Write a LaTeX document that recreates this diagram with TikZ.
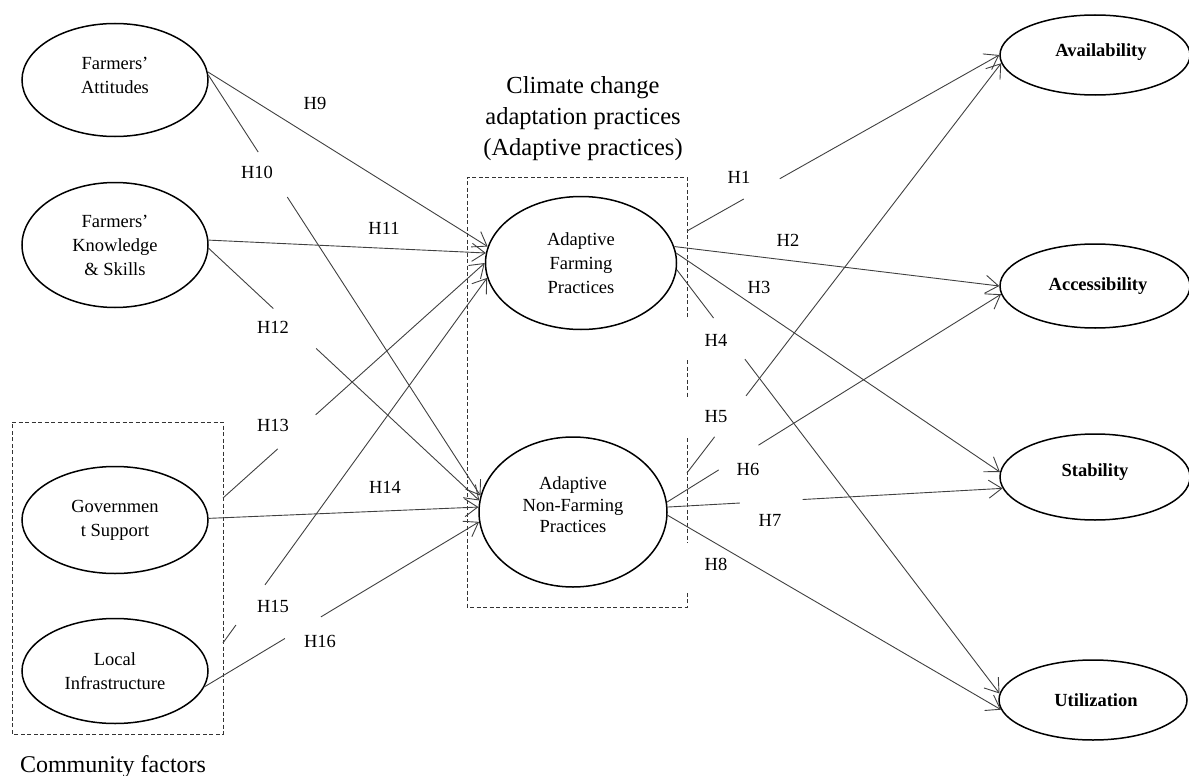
\documentclass[tikz,border=0pt]{standalone}
\usepackage{fontspec}
\setmainfont{Liberation Serif}
\usetikzlibrary{shapes.geometric,arrows.meta,calc}
\newcommand{\gapline}[4]{\draw[arr] (#1) -- ($(#1)!#3!(#2)$) ($(#1)!#4!(#2)$) -- (#2);}
\begin{document}
\begin{tikzpicture}[x=1pt,y=-1pt,
  ell/.style={ellipse,draw=black,line width=1.5pt,inner sep=0pt,align=center,font=\fontsize{18.5}{24}\selectfont},
  boldell/.style={ell,font=\fontsize{18.5}{24}\selectfont\bfseries},
  conn/.style={draw=black!75,line width=0.9pt},
  arr/.style={conn,-{Straight Barb[length=13pt,width=18pt]}},
  hlab/.style={font=\fontsize{18.5}{22}\selectfont,inner sep=0pt},
  grp/.style={draw=black!80,line width=0.9pt,dash pattern=on 4pt off 2.5pt},
  bigtext/.style={font=\fontsize{24.5}{31}\selectfont,align=center,inner sep=0pt}
]
\useasboundingbox (0,0) rectangle (1189,776);

% group boxes
\coordinate (cNW) at (12,422);
\coordinate (cNE) at (223,422);
\coordinate (cSE) at (223,734);
\coordinate (cSW) at (12,734);
\draw[grp] (cNW) -- (cNE) -- (cSE) -- (cSW) -- cycle;

\coordinate (mNW) at (467,177);
\coordinate (mNE) at (687,177);
\coordinate (mSE) at (687,607);
\coordinate (mSW) at (467,607);
\draw[grp] ($(mNE)+(0,140)$) -- (mNE) -- (mNW) -- (mSW) -- (mSE) -- ($(mSE)+(0,-15)$);
\draw[grp] ($(mNE)+(0,183)$) -- ($(mNE)+(0,220)$);
\draw[grp] ($(mNE)+(0,261)$) -- ($(mNE)+(0,366)$);

% titles
\node[bigtext] (title) at (583,119) {Climate change\\adaptation practices\\(Adaptive practices)};
\node[font=\fontsize{24}{31}\selectfont,anchor=base,inner sep=0pt] (cf) at (113,772) {Community factors};

% ellipses
\node[ell,minimum width=186pt,minimum height=113pt] (att) at (115,80) {Farmers’\\Attitudes\rule[-10pt]{0pt}{10pt}};
\node[ell,minimum width=186pt,minimum height=125pt] (know) at (115,245) {Farmers’\\Knowledge\\\& Skills};
\node[ell,minimum width=186pt,minimum height=107pt] (gov) at (115,520) {Governmen\\t Support};
\node[ell,minimum width=186pt,minimum height=105pt] (infra) at (115,671) {Local\\Infrastructure};
\node[ell,minimum width=191pt,minimum height=133pt] (afp) at (581,263) {Adaptive\\Farming\\Practices};
\node[ell,minimum width=188pt,minimum height=150pt,font=\fontsize{18.5}{21.5}\selectfont] (anf) at (573,512) {Adaptive\\Non-Farming\\Practices\rule[-14pt]{0pt}{14pt}};
\node[boldell,minimum width=190pt,minimum height=80pt] (avail) at (1095,55) {\hspace{12pt}Availability\rule[-10pt]{0pt}{10pt}};
\node[boldell,minimum width=190pt,minimum height=84pt] (access) at (1095,286) {\hspace{6pt}Accessibility};
\node[boldell,minimum width=190pt,minimum height=86pt] (stab) at (1095,477) {Stability\rule[-14pt]{0pt}{14pt}};
\node[boldell,minimum width=188pt,minimum height=80pt] (util) at (1093,700) {\hspace{6pt}Utilization};

% start points on group borders
\coordinate (cH13) at ($(cNE)!0.2436!(cSE)$);
\coordinate (cH15) at ($(cNE)!0.708!(cSE)$);
\coordinate (mH1) at ($(mNE)!0.1256!(mSE)$);
\coordinate (mH5) at ($(mNE)!0.688!(mSE)$);

% left connectors
\draw[arr] (att.5) -- (afp.170);
\gapline{att.3}{anf.170}{0.183}{0.29}
\draw[arr] (know.3) -- (afp.174);
\gapline{know.-2}{anf.173}{0.239}{0.397}
\gapline{cH13}{afp.180}{0.209}{0.354}
\draw[arr] (gov.1) -- (anf.177);
\gapline{cH15}{afp.189}{0.049}{0.159}
\gapline{infra.-10}{anf.186}{0.293}{0.424}

% right connectors
\gapline{mH1}{avail.180}{0.182}{0.297}
\draw[arr] (afp.10) -- (access.180);
\draw[arr] (afp.6) -- (stab.177);
\gapline{afp.-4}{util.176}{0.114}{0.211}
\gapline{mH5}{avail.185}{0.088}{0.188}
\gapline{anf.6}{access.185}{0.155}{0.274}
\gapline{anf.3}{stab.187}{0.216}{0.403}
\draw[arr] (anf.-2) -- (util.186);

% labels
\node[hlab] (h1) at (739,177) {H1};
\node[hlab] (h2) at (788,240) {H2};
\node[hlab] (h3) at (759,287) {H3};
\node[hlab] (h4) at (716,340) {H4};
\node[hlab] (h5) at (716,417) {H5};
\node[hlab] (h6) at (748,469) {H6};
\node[hlab] (h7) at (770,520) {H7};
\node[hlab] (h8) at (716,564) {H8};
\node[hlab] (h9) at (315,103) {H9};
\node[hlab] (h10) at (257,172) {H10};
\node[hlab] (h11) at (384,228) {H11};
\node[hlab] (h12) at (273,327) {H12};
\node[hlab] (h13) at (273,425) {H13};
\node[hlab] (h14) at (385,487) {H14};
\node[hlab] (h15) at (273,606) {H15};
\node[hlab] (h16) at (320,641) {H16};
\end{tikzpicture}
\end{document}
